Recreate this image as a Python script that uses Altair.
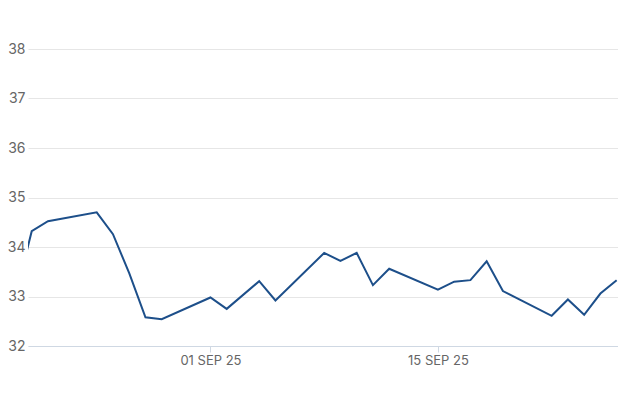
import altair as alt
import pandas as pd

dates = [
    "2025-08-20", "2025-08-21", "2025-08-22", "2025-08-25", "2025-08-26",
    "2025-08-27", "2025-08-28", "2025-08-29", "2025-09-01", "2025-09-02",
    "2025-09-04", "2025-09-05", "2025-09-08", "2025-09-09", "2025-09-10",
    "2025-09-11", "2025-09-12", "2025-09-15", "2025-09-16", "2025-09-17",
    "2025-09-18", "2025-09-19", "2025-09-22", "2025-09-23", "2025-09-24",
    "2025-09-25", "2025-09-26",
]
values = [
    33.00, 34.32, 34.52, 34.70, 34.26,
    33.47, 32.58, 32.54, 32.98, 32.75,
    33.31, 32.92, 33.88, 33.72, 33.88,
    33.23, 33.56, 33.14, 33.30, 33.33,
    33.71, 33.11, 32.61, 32.94, 32.63,
    33.06, 33.33,
]
y_ticks = [32, 33, 34, 35, 36, 37, 38]
x_ticks = ["2025-09-01", "2025-09-15"]

df = pd.DataFrame({"date": dates, "value": values})

x_domain = [
    alt.DateTime(year=2025, month=8, date=20, hours=18, minutes=30, utc=True),
    alt.DateTime(year=2025, month=9, date=26, hours=2, utc=True),
]
x_values = [
    alt.DateTime(year=2025, month=9, date=1, utc=True),
    alt.DateTime(year=2025, month=9, date=15, utc=True),
]

chart = (
    alt.Chart(df)
    .mark_line(color="#1d4f8a", strokeWidth=2, clip=True)
    .encode(
        x=alt.X(
            "date:T",
            scale=alt.Scale(type="utc", domain=x_domain),
            axis=alt.Axis(
                title=None,
                values=x_values,
                labelExpr="upper(utcFormat(datum.value, '%d %b %y'))",
                grid=False,
                domainColor="#cfd8e3",
                domainWidth=1,
                tickColor="#cfd8e3",
                tickSize=6,
                labelColor="#666666",
                labelFont="Inter",
                labelFontSize=13,
                labelPadding=2,
            ),
        ),
        y=alt.Y(
            "value:Q",
            scale=alt.Scale(domain=[32, 38], nice=False, zero=False),
            axis=alt.Axis(
                title=None,
                values=y_ticks,
                domain=False,
                ticks=False,
                tickSize=0,
                gridColor="#e6e6e6",
                labelColor="#666666",
                labelFont="Inter",
                labelFontSize=14,
                labelPadding=3,
            ),
        ),
    )
    .properties(
        width=590,
        height=297,
        background="white",
        autosize=alt.AutoSizeParams(type="none"),
        padding={"left": 20, "top": 41, "right": 0, "bottom": 40},
    )
    .configure_view(strokeWidth=0, stroke="transparent")
)

chart.save("out.html", embed_options={"renderer": "svg", "actions": False})
